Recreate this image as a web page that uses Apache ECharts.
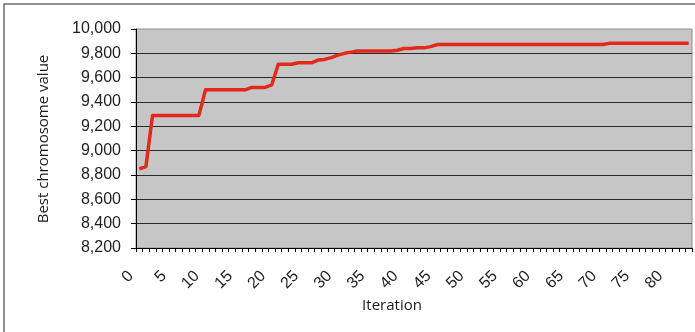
<!DOCTYPE html>
<html>
<head>
<meta charset="utf-8">
<script src="https://cdn.jsdelivr.net/npm/echarts@6/dist/echarts.min.js"></script>
<style>
  html, body { margin: 0; padding: 0; background: #ffffff; }
  #chart { width: 695px; height: 332px; }
</style>
</head>
<body>
<div id="chart"></div>
<script>
// Iteration numbers (category axis)
const iterations = Array.from({ length: 84 }, (_, i) => String(i));

// Best chromosome value found so far at each iteration
const bestValues = [
  8850, 8870, 9290, 9290, 9290, 9290, 9290, 9290, 9290, 9290,
  9500, 9500, 9500, 9500, 9500, 9500, 9500, 9520, 9520, 9520,
  9540, 9710, 9710, 9710, 9722, 9722, 9722, 9745, 9750, 9765,
  9785, 9800, 9810, 9820, 9820, 9820, 9820, 9820, 9820, 9825,
  9840, 9840, 9845, 9845, 9855, 9872, 9872, 9872, 9872, 9872,
  9872, 9872, 9872, 9872, 9872, 9872, 9872, 9872, 9872, 9872,
  9872, 9872, 9872, 9872, 9872, 9872, 9872, 9872, 9872, 9872,
  9872, 9882, 9882, 9882, 9882, 9882, 9882, 9882, 9882, 9882,
  9882, 9882, 9882, 9882
];

// Value axis range and step
const yMin = 8200;
const yMax = 10000;
const yStep = 200;

const xTitle = 'Iteration';
const yTitle = 'Best chromosome value';

const chart = echarts.init(document.getElementById('chart'), null, { renderer: 'canvas' });

chart.setOption({
  backgroundColor: '#ffffff',
  animation: false,
  grid: {
    left: 136,
    right: 3,
    top: 29,
    bottom: 84,
    show: true,
    backgroundColor: '#c6c6c6',
    borderColor: '#8c8c8c',
    borderWidth: 1
  },
  xAxis: {
    type: 'category',
    data: iterations,
    boundaryGap: true,
    axisLine: { show: true, lineStyle: { color: '#000000', width: 1 } },
    axisTick: { show: true, interval: 0, length: 4, lineStyle: { color: '#000000' } },
    axisLabel: {
      interval: 4,
      rotate: 45,
      margin: 17,
      padding: [0, 12, 0, 0],
      color: '#222222',
      fontFamily: 'Liberation Sans, Arial, sans-serif',
      fontSize: 16
    },
    splitLine: { show: false }
  },
  yAxis: {
    type: 'value',
    min: yMin,
    max: yMax,
    interval: yStep,
    axisLine: { show: true, lineStyle: { color: '#000000', width: 1 } },
    axisTick: { show: true, length: 5, lineStyle: { color: '#000000' } },
    axisLabel: {
      margin: 15,
      color: '#222222',
      fontFamily: 'Liberation Sans, Arial, sans-serif',
      fontSize: 16,
      formatter: v => v.toLocaleString('en-US')
    },
    splitLine: {
      show: true,
      showMaxLine: false,
      lineStyle: { color: '#2a2a2a', width: 1 }
    }
  },
  graphic: [
    {
      type: 'rect',
      shape: { x: 4, y: 4, width: 800, height: 400 },
      style: { fill: 'none', stroke: '#6e6e6e', lineWidth: 1.5 },
      silent: true,
      z: 100
    },
    {
      type: 'text',
      x: 392,
      y: 306,
      style: {
        text: xTitle,
        fill: '#1a1a1a',
        font: '15px "Open Sans", sans-serif',
        textAlign: 'center',
        textVerticalAlign: 'middle'
      }
    },
    {
      type: 'text',
      x: 44,
      y: 139,
      rotation: Math.PI / 2,
      style: {
        text: yTitle,
        fill: '#1a1a1a',
        font: '15px "Open Sans", sans-serif',
        textAlign: 'center',
        textVerticalAlign: 'middle'
      }
    }
  ],
  series: [
    {
      type: 'line',
      data: bestValues,
      symbol: 'none',
      smooth: false,
      lineStyle: { color: '#e3281c', width: 3.5, join: 'round' }
    }
  ]
});
</script>
</body>
</html>
